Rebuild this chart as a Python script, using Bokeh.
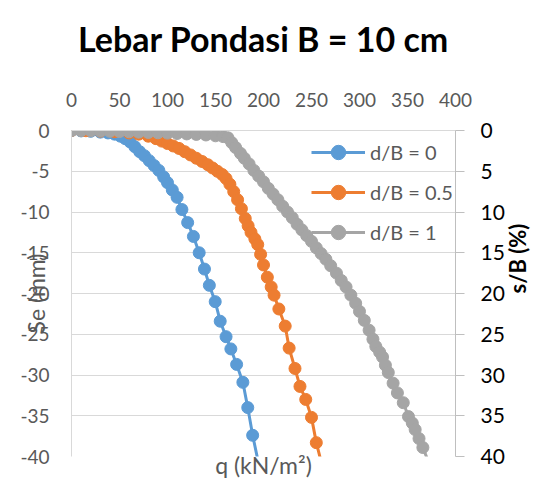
from math import pi
from bokeh.plotting import figure
from bokeh.models import (Range1d, LinearAxis, FixedTicker, Legend, LegendItem)
from bokeh.embed import file_html
from bokeh.resources import INLINE

title_text = "Lebar Pondasi B = 10 cm"
x_title = "q (kN/m\u00b2)"
y_title = "Se (mm)"
y2_title = "s/B (%)"
series_names = ["d/B = 0", "d/B = 0.5", "d/B = 1"]

x_ticks = [0, 50, 100, 150, 200, 250, 300, 350, 400]
y_ticks = [0, -5, -10, -15, -20, -25, -30, -35, -40]
y2_ticks = [0, 5, 10, 15, 20, 25, 30, 35, 40]

# d/B = 0
q_b = [0, 10, 20, 30, 38, 45, 51, 56, 61, 66, 71, 76, 81, 86, 91, 96, 100, 105,
       110, 115, 121, 127, 133, 138.5, 143.6, 149.7, 154.9, 161, 166, 172,
       178.5, 183.6, 188.7, 196]
se_b = [0, -0.05, -0.1, -0.2, -0.3, -0.45, -0.7, -1.0, -1.4, -2.0, -2.6, -3.1,
        -3.7, -4.3, -4.9, -5.7, -6.4, -7.3, -8.2, -9.7, -11.3, -13.0, -15.0,
        -17.0, -19.0, -21.0, -23.4, -25.3, -26.8, -28.7, -30.9, -34.0, -37.4, -41.5]

# d/B = 0.5
q_o = [0, 15, 30, 45, 60, 70, 80, 88, 94, 100, 106, 112, 118, 124, 130, 136, 142,
       147, 152, 157, 161, 165, 169, 173, 177, 181, 184, 187, 191, 194, 197,
       200, 204, 208, 211, 216, 222.6, 226.7, 232.8, 238, 244, 250, 255, 263]
se_o = [0, -0.03, -0.08, -0.15, -0.3, -0.45, -0.7, -1.0, -1.3, -1.6, -1.9, -2.2,
        -2.6, -3.0, -3.4, -3.8, -4.2, -4.6, -5.0, -5.4, -5.9, -6.6, -7.5, -8.5,
        -9.6, -10.8, -11.7, -12.5, -13.3, -14.0, -15.2, -16.5, -18.0, -19.2,
        -20.2, -21.9, -24.0, -26.7, -29.2, -31.4, -33.0, -35.2, -38.3, -42.0]

# d/B = 1
q_g = [0, 10, 20, 30, 40, 50, 60, 70, 80, 90, 100, 110, 120, 130, 140, 150, 158,
       163, 167, 171, 176, 180, 185, 190, 195, 200, 205, 210, 215, 220, 225, 230,
       235, 240, 245, 250, 255, 260, 265, 270, 276, 281, 286, 291, 296, 300, 305,
       310, 314, 317, 321, 324, 327, 330, 335, 339.5, 345.6, 351, 355, 358, 362,
       366, 374]
se_g = [0, -0.02, -0.04, -0.07, -0.1, -0.13, -0.16, -0.2, -0.24, -0.28, -0.32,
        -0.37, -0.42, -0.48, -0.55, -0.65, -0.75, -0.9, -1.5, -2.1, -2.8, -3.4,
        -4.1, -4.9, -5.6, -6.3, -7.1, -7.8, -8.5, -9.3, -10.0, -10.7, -11.5,
        -12.2, -12.9, -13.6, -14.4, -15.1, -15.8, -16.6, -17.5, -18.4, -19.2,
        -20.2, -21.2, -22.2, -23.3, -24.5, -25.6, -26.5, -27.2, -27.8, -28.8,
        -29.7, -31.0, -32.2, -33.4, -35.1, -35.9, -36.7, -37.8, -38.9, -41.3]

colors = ["#5B9BD5", "#ED7D31", "#A5A5A5"]
FONT = "Lato"
GRAY_TXT = "#595959"

W, H = 547, 481
p = figure(width=W, height=H, output_backend="svg", toolbar_location=None,
           x_range=Range1d(0, 400), y_range=Range1d(-40, 0),
           x_axis_location="above",
           min_border_left=71, min_border_right=86,
           min_border_top=130, min_border_bottom=24)
p.outline_line_color = None
p.background_fill_color = "white"
p.border_fill_color = "white"

# top x axis
xa = p.xaxis[0]
xa.ticker = FixedTicker(ticks=x_ticks)
xa.major_tick_out = 0
xa.major_tick_in = 0
xa.minor_tick_out = 0
xa.minor_tick_in = 0
xa.axis_line_color = "#D9D9D9"
xa.major_label_text_color = GRAY_TXT
xa.major_label_text_font = FONT
xa.major_label_text_font_size = "19px"
xa.major_label_standoff = 24

# outer title-carrying axis (no ticks, no line); bounds shift the title centre
p.extra_x_ranges = {"ttl": Range1d(0, 400)}
ta = LinearAxis(x_range_name="ttl", ticker=FixedTicker(ticks=[]),
                bounds=(32.8, 400))
ta.axis_line_color = None
ta.major_tick_out = 0
ta.major_tick_in = 0
ta.minor_tick_out = 0
ta.minor_tick_in = 0
ta.major_label_text_font_size = "0px"
ta.major_label_standoff = 0
ta.axis_label = title_text
ta.axis_label_text_font = FONT
ta.axis_label_text_font_style = "bold"
ta.axis_label_text_font_size = "34px"
ta.axis_label_text_color = "black"
ta.axis_label_standoff = 31
p.add_layout(ta, "above")

# left y axis
ya = p.yaxis[0]
ya.ticker = FixedTicker(ticks=y_ticks)
ya.major_label_overrides = {v: str(v) for v in y_ticks}
ya.major_tick_out = 0
ya.major_tick_in = 0
ya.minor_tick_out = 0
ya.minor_tick_in = 0
ya.axis_line_color = "#D9D9D9"
ya.major_label_text_color = GRAY_TXT
ya.major_label_text_font = FONT
ya.major_label_text_font_size = "19px"
ya.major_label_standoff = 22
ya.axis_label = y_title
ya.axis_label_text_font = FONT
ya.axis_label_text_font_style = "normal"
ya.axis_label_text_font_size = "23px"
ya.axis_label_text_color = GRAY_TXT
ya.axis_label_standoff = -33

p.xgrid.visible = False
p.ygrid.ticker = FixedTicker(ticks=y_ticks)
p.ygrid.grid_line_color = "#D9D9D9"
p.ygrid.grid_line_width = 1

# bottom axis carrying only the q title
ba = LinearAxis(ticker=FixedTicker(ticks=[]))
ba.axis_line_color = None
ba.major_tick_out = 0
ba.major_tick_in = 0
ba.minor_tick_out = 0
ba.minor_tick_in = 0
ba.major_label_text_font_size = "0px"
ba.major_label_standoff = 0
ba.axis_label = x_title
ba.axis_label_text_font = FONT
ba.axis_label_text_font_style = "normal"
ba.axis_label_text_font_size = "23px"
ba.axis_label_text_color = GRAY_TXT
ba.axis_label_standoff = -6
p.add_layout(ba, "below")

# right axis s/B
p.extra_y_ranges = {"sb": Range1d(start=40, end=0)}
ra = LinearAxis(y_range_name="sb", ticker=FixedTicker(ticks=y2_ticks))
ra.major_tick_out = 9
ra.major_tick_in = 0
ra.minor_tick_out = 0
ra.minor_tick_in = 0
ra.axis_line_color = "#BFBFBF"
ra.major_tick_line_color = "#BFBFBF"
ra.major_label_text_color = "black"
ra.major_label_text_font = FONT
ra.major_label_text_font_size = "21px"
ra.major_label_standoff = 16
ra.axis_label = y2_title
ra.axis_label_text_font = FONT
ra.axis_label_text_font_style = "bold"
ra.axis_label_text_font_size = "22px"
ra.axis_label_text_color = "black"
ra.axis_label_text_align = "center"
ra.axis_label_standoff = 10
try:
    ra.axis_label_orientation = pi / 2
except Exception:
    pass
p.add_layout(ra, "right")

# series
items = []
for q, se, c, name in [(q_b, se_b, colors[0], series_names[0]),
                       (q_o, se_o, colors[1], series_names[1]),
                       (q_g, se_g, colors[2], series_names[2])]:
    ln = p.line(q, se, line_color=c, line_width=3)
    sc = p.scatter(q, se, size=12, fill_color=c, line_color=c, line_width=1)
    items.append(LegendItem(label=name, renderers=[ln, sc]))

legend = Legend(items=items, location=(240, 206), orientation="vertical",
                glyph_width=54, glyph_height=36, label_height=36, spacing=4,
                padding=0, margin=0, label_standoff=5,
                label_text_font=FONT, label_text_font_size="20px",
                label_text_color=GRAY_TXT,
                background_fill_alpha=0, border_line_alpha=0)
p.add_layout(legend)

open("out.html", "w").write(file_html(p, INLINE))
